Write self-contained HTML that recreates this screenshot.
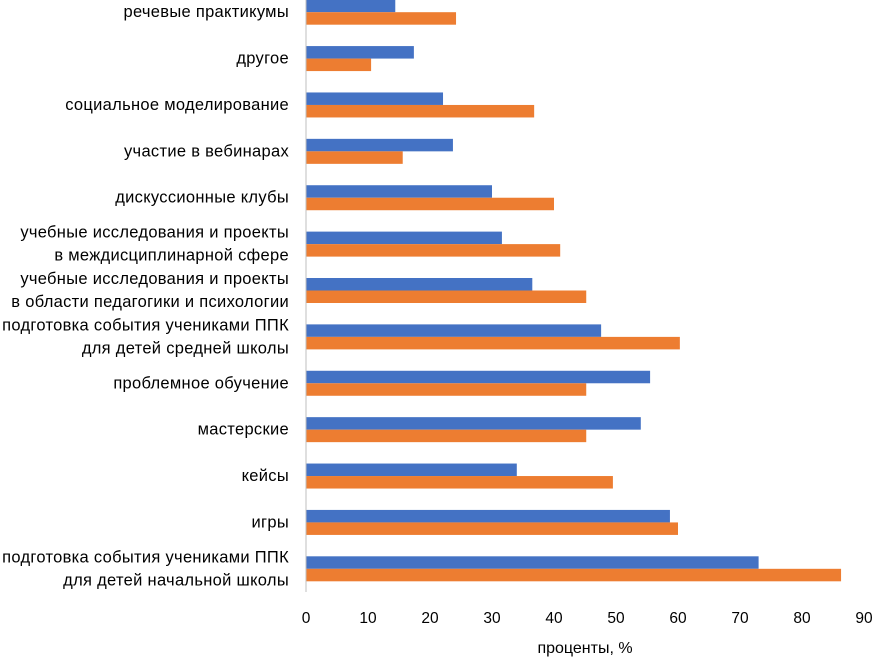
<!DOCTYPE html>
<html><head><meta charset="utf-8"><style>
body{margin:0;background:#fff;}
svg{display:block;font-family:"Liberation Sans","DejaVu Sans",sans-serif;}
</style></head><body>
<svg id="chart" width="874" height="657"></svg>
<script>
const categories=[
 ["речевые практикумы"],
 ["другое"],
 ["социальное моделирование"],
 ["участие в вебинарах"],
 ["дискуссионные клубы"],
 ["учебные исследования и проекты","в междисциплинарной сфере"],
 ["учебные исследования и проекты","в области педагогики и психологии"],
 ["подготовка события учениками ППК","для детей средней школы"],
 ["проблемное обучение"],
 ["мастерские"],
 ["кейсы"],
 ["игры"],
 ["подготовка события учениками ППК","для детей начальной школы"]
];
const seriesBlue=[14.4,17.4,22.1,23.7,30,31.6,36.5,47.6,55.5,54,34,58.7,73];
const seriesOrange=[24.2,10.5,36.8,15.6,40,41,45.2,60.3,45.2,45.2,49.5,60,86.3];
const ticks=[0,10,20,30,40,50,60,70,80,90];
const NS="http://www.w3.org/2000/svg";
const svgEl=document.getElementById('chart');
const x0=306,x1=864,yTop=-11,yBottom=592;
const xs=v=>x0+(x1-x0)*v/90;
const band=(yBottom-yTop)/categories.length;
const yc=i=>yTop+band*(i+0.5);
function mk(t,a){const e=document.createElementNS(NS,t);for(const k in a)e.setAttribute(k,a[k]);svgEl.appendChild(e);return e;}
categories.forEach((c,i)=>{
 const cy=yc(i);
 const b=mk('rect',{x:x0,y:cy-12.5,width:xs(seriesBlue[i])-x0,height:12.5,fill:'#4472C4'});
 
 
 const o=mk('rect',{x:x0,y:cy,width:xs(seriesOrange[i])-x0,height:12.5,fill:'#ED7D31'});
 
 
 c.forEach((line,j)=>{
  const t=mk('text',{x:289,y:cy+5+(j-(c.length-1)/2)*23,'text-anchor':'end','font-size':'16.5','letter-spacing':'0.3',fill:'#000'});
  t.textContent=line;
  
  
 });
});
const ax=mk('line',{x1:x0,y1:0,x2:x0,y2:yBottom,stroke:'#bfbfbf','stroke-width':1});


ticks.forEach(v=>{
 const t=mk('text',{x:xs(v),y:623,'text-anchor':'middle','font-size':'15.5',fill:'#000'});
 t.textContent=v;
 
 
});
const tt=mk('text',{x:585,y:653,'text-anchor':'middle','font-size':'16',fill:'#000'});
tt.textContent='проценты, %';


</script>
</body></html>
